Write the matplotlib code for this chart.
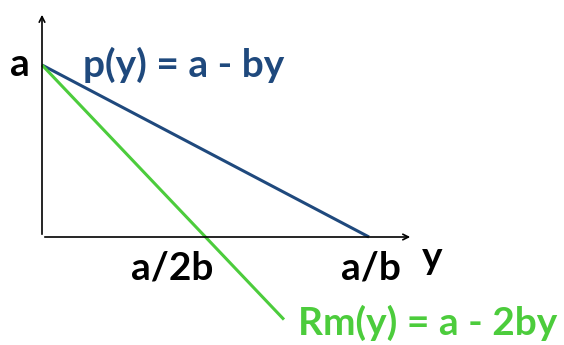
import matplotlib.pyplot as plt
import numpy as np

# demand / marginal revenue with a = 1, b = 1
a = 1.0
b = 1.0
y_demand = [0.0, a / b]
p_demand = [a - b * v for v in y_demand]
y_mr = [0.0, 0.74]
p_mr = [a - 2 * b * v for v in y_mr]

blue = '#1f497d'
green = '#4ccc3c'
font = ['Lato', 'DejaVu Sans']
fs = 28

fig = plt.figure(figsize=(5.64, 3.45), dpi=100)
ax = fig.add_axes([0, 0, 1, 1])
ax.set_xlim(-42 / 327, (564 - 42) / 327)
ax.set_ylim((237 - 345) / 172, 237 / 172)
ax.axis('off')

# axes with arrows
ax.annotate('', xy=(0, (237 - 12) / 172), xytext=(0, 0),
            arrowprops=dict(arrowstyle='->', color='black', lw=1.2))
ax.annotate('', xy=((413 - 42) / 327, 0), xytext=(0, 0),
            arrowprops=dict(arrowstyle='->', color='black', lw=1.2))

ax.plot(y_demand, p_demand, color=blue, lw=2.2, solid_capstyle='butt')
ax.plot(y_mr, p_mr, color=green, lw=2.2, solid_capstyle='butt')

ax.text(-0.067, a, 'a', fontsize=fs, fontweight='bold', family=font,
        ha='center', va='center')
ax.text(0.125, a, 'p(y) = a - by', fontsize=fs, fontweight='bold', family=font,
        color=blue, ha='left', va='center')
ax.text(0.398, -0.18, 'a/2b', fontsize=fs, fontweight='bold',
        family=font, ha='center', va='center')
ax.text(1.005, -0.18, 'a/b', fontsize=fs, fontweight='bold', family=font,
        ha='center', va='center')
ax.text(1.193, -0.12, 'y', fontsize=fs, fontweight='bold', family=font,
        ha='center', va='center')
ax.text(0.783, -0.5, 'Rm(y) = a - 2by', fontsize=fs, fontweight='bold',
        family=font, color=green, ha='left', va='center')

fig.savefig('out.png', dpi=100)
